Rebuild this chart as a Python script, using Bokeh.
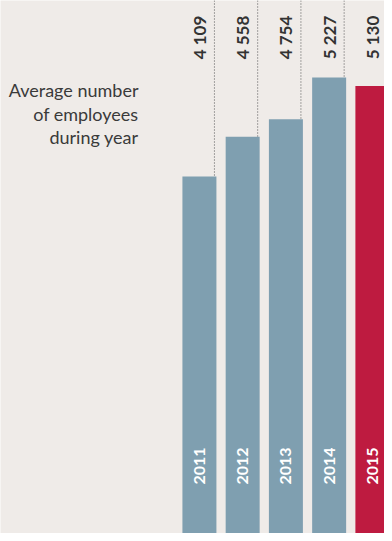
import numpy as np
from bokeh.plotting import figure
from bokeh.models import Range1d, ColumnDataSource
from bokeh.core.properties import value
from bokeh.embed import file_html
from bokeh.resources import INLINE

years = ["2011", "2012", "2013", "2014", "2015"]
employees = [4109, 4558, 4754, 5227, 5130]
value_labels = ["4 109", "4 558", "4 754", "5 227", "5 130"]
bar_colors = ["#7f9fb0", "#7f9fb0", "#7f9fb0", "#7f9fb0", "#be1b40"]
title_lines = ["Average number", "of employees", "during year"]

BG = "#efebe8"
FONT = "Lato"

idx = list(range(len(years)))
y_top = 6095
value_label_y = 5432
year_label_y = 632

p = figure(width=384, height=533, output_backend="svg", toolbar_location=None,
           x_range=Range1d(-4.6, 4.28), y_range=Range1d(79, y_top),
           min_border=0, background_fill_color=BG, border_fill_color=BG,
           outline_line_color=None)
p.axis.visible = False
p.grid.visible = False

src = ColumnDataSource(dict(x=idx, top=employees, color=bar_colors,
                            year=years, lab=value_labels,
                            lx=[i + 0.347 for i in idx],
                            ytop=[y_top] * len(idx),
                            vy=[value_label_y] * len(idx),
                            yy=[year_label_y] * len(idx)))

p.segment(x0="lx", x1="lx", y0="ytop", y1="top", source=src,
          line_color="#555555", line_width=1, line_dash="1 2")
p.vbar(x="x", top="top", bottom=0, width=0.786, color="color", source=src,
       line_color=None)

p.text(x="x", y="vy", text="lab", source=src, angle=np.pi / 2,
       text_align="left", text_baseline="middle", text_font=value(FONT),
       text_font_size="17px", text_font_style="bold", text_color="#333333")
p.text(x="x", y="yy", text="year", source=src, angle=np.pi / 2,
       text_align="left", text_baseline="middle", text_font=value(FONT),
       text_font_size="16px", text_font_style="bold", text_color="#ffffff")

title_y = [5082, 4811, 4551]
p.text(x=[-1.41] * 3, y=title_y, text=title_lines, text_align="right",
       text_baseline="alphabetic", text_font=value(FONT),
       text_font_size="18px", text_color="#3a3a3a")

open("out.html", "w").write(file_html(p, INLINE))
